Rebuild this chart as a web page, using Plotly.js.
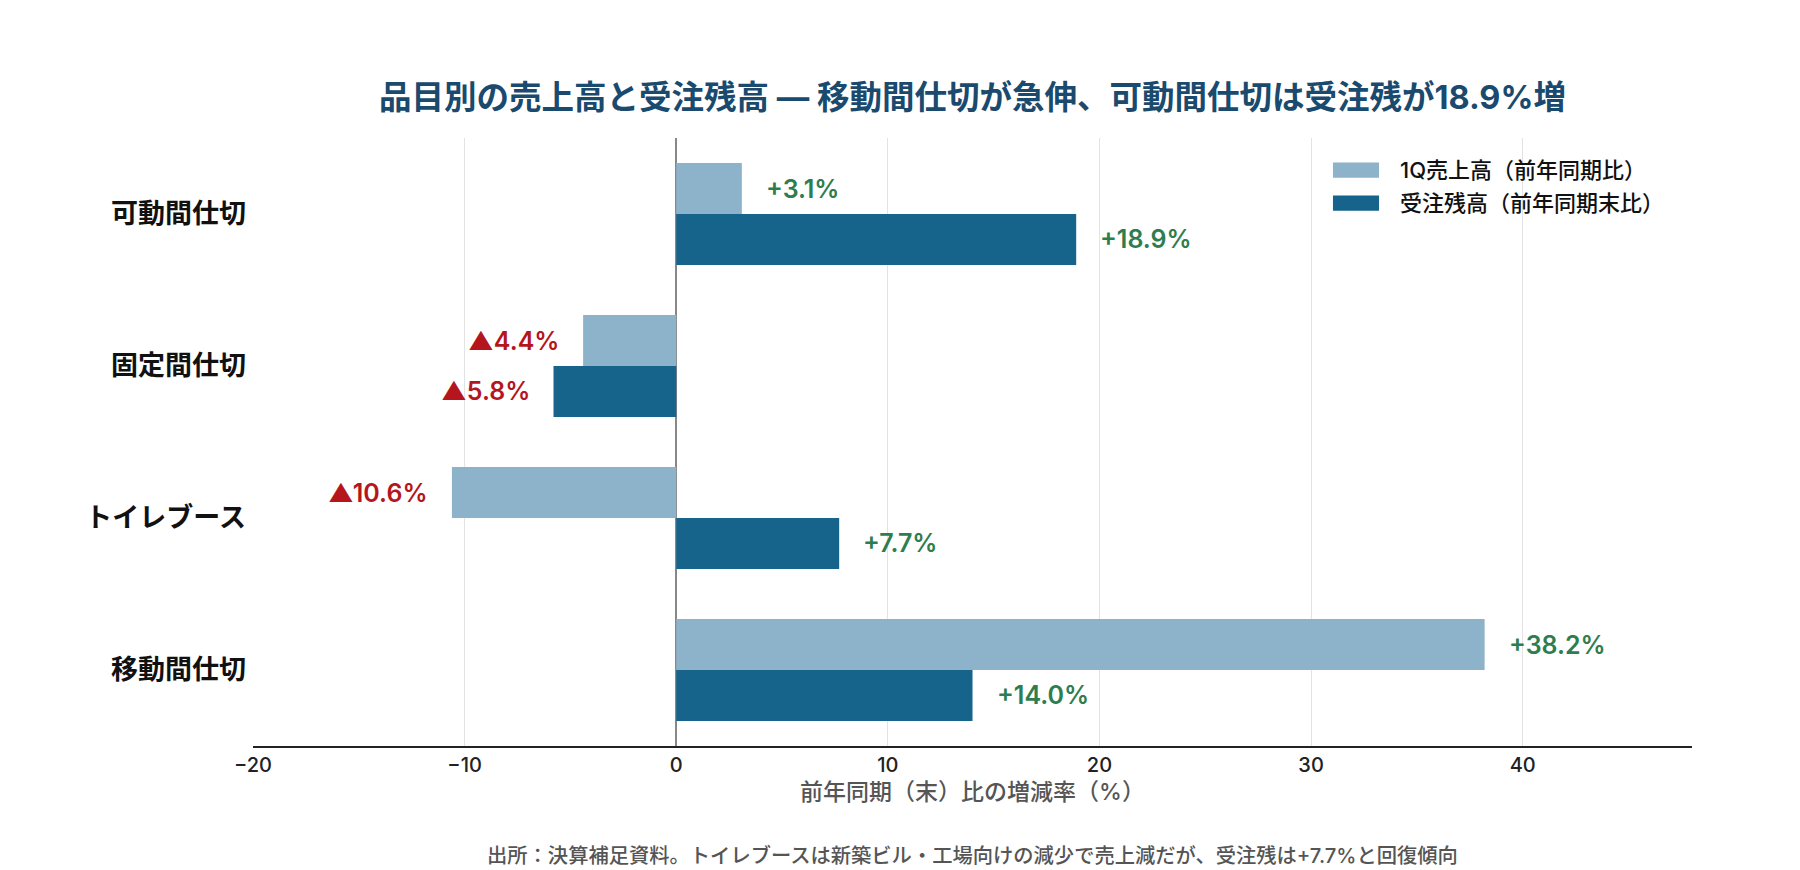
<!DOCTYPE html>
<html>
<head>
<meta charset="utf-8">
<script src="https://cdn.plot.ly/plotly-3.0.1.min.js"></script>
<style>html,body{margin:0;padding:0;background:#fff}#chart{width:1800px;height:870px}</style>
</head>
<body>
<div id="chart"></div>
<script>
const categories = ['可動間仕切', '固定間仕切', 'トイレブース', '移動間仕切'];
const seriesNames = ['1Q売上高（前年同期比）', '受注残高（前年同期末比）'];
const salesYoY = [3.1, -4.4, -10.6, 38.2];
const backlogYoY = [18.9, -5.8, 7.7, 14.0];
const xTicks = [-20, -10, 0, 10, 20, 30, 40];

const FONT = 'Inter, "Noto Sans CJK JP", sans-serif';
const COLORS = ['#8cb3c9', '#16638c'];
const POS = '#2e7d4f';
const NEG = '#b5161e';
const BARGAP = 0.33;

function fmt(v) {
  return v >= 0 ? '+' + v.toFixed(1) + '%' : '▲' + Math.abs(v).toFixed(1) + '%';
}

const seriesValues = [salesYoY, backlogYoY];
const traces = seriesValues.map((vals, t) => ({
  type: 'bar', orientation: 'h', name: seriesNames[t], y: categories, x: vals,
  marker: {color: COLORS[t]}, hoverinfo: 'skip', showlegend: false
}));

const half = (1 - BARGAP) / 4;
const annotations = [];
const shapes = [];
seriesValues.forEach((arr, t) => {
  arr.forEach((v, i) => {
    annotations.push({
      x: v, y: i + (t === 0 ? -half : half), xref: 'x', yref: 'y',
      text: fmt(v), showarrow: false,
      xanchor: v >= 0 ? 'left' : 'right', yanchor: 'middle',
      xshift: v >= 0 ? 22 : -22,
      font: {family: FONT, size: 25, color: v >= 0 ? POS : NEG, weight: 600}
    });
  });
});

// legend (drawn as paper-anchored keys to get wide colour swatches)
const legendRowsY = [0.947, 0.893];
seriesNames.forEach((name, t) => {
  const yc = legendRowsY[t];
  shapes.push({type: 'rect', xref: 'paper', yref: 'paper',
    x0: 0.7505, x1: 0.7825, y0: yc - 0.0125, y1: yc + 0.0125,
    fillcolor: COLORS[t], line: {width: 0}});
  annotations.push({xref: 'paper', yref: 'paper', x: 0.7957, y: yc,
    xanchor: 'left', yanchor: 'middle', showarrow: false, text: name,
    font: {family: FONT, size: 22, color: '#111111', weight: 500}});
});

annotations.push({
  xref: 'paper', yref: 'paper', x: 0.5, y: -0.18, xanchor: 'center', yanchor: 'middle',
  showarrow: false,
  text: '出所：決算補足資料。トイレブースは新築ビル・工場向けの減少で売上減だが、受注残は+7.7%と回復傾向',
  font: {family: FONT, size: 20.3, color: '#555555', weight: 500}
});

const layout = {
  width: 1800, height: 870,
  paper_bgcolor: '#ffffff', plot_bgcolor: '#ffffff',
  margin: {l: 253, r: 108, t: 138, b: 124},
  font: {family: FONT, color: '#111111'},
  title: {
    text: '品目別の売上高と受注残高 — 移動間仕切が急伸、可動間仕切は受注残が18.9%増',
    x: 0.5, xref: 'paper', xanchor: 'center',
    y: 1 - 98 / 870, yref: 'container', yanchor: 'middle',
    font: {family: FONT, size: 32.5, color: '#1a4a6e', weight: 700}
  },
  barmode: 'group', bargap: BARGAP, bargroupgap: 0,
  xaxis: {
    range: [-20, 48], tickvals: xTicks, ticks: '',
    showgrid: true, gridcolor: '#e3e3e3', gridwidth: 1,
    zeroline: true, zerolinecolor: '#888888', zerolinewidth: 1.5,
    showline: true, linecolor: '#222222', linewidth: 2,
    tickfont: {family: FONT, size: 20, color: '#222222', weight: 500},
    title: {text: '前年同期（末）比の増減率（%）', standoff: 8,
            font: {family: FONT, size: 23, color: '#555555', weight: 500}}
  },
  yaxis: {
    type: 'category', autorange: 'reversed', ticks: '',
    showgrid: false, zeroline: false, showline: false,
    ticklabelstandoff: 6,
    tickfont: {family: FONT, size: 27, color: '#111111', weight: 700}
  },
  showlegend: false,
  shapes: shapes,
  annotations: annotations
};

Plotly.newPlot('chart', traces, layout, {displayModeBar: false, staticPlot: true});
</script>
</body>
</html>
